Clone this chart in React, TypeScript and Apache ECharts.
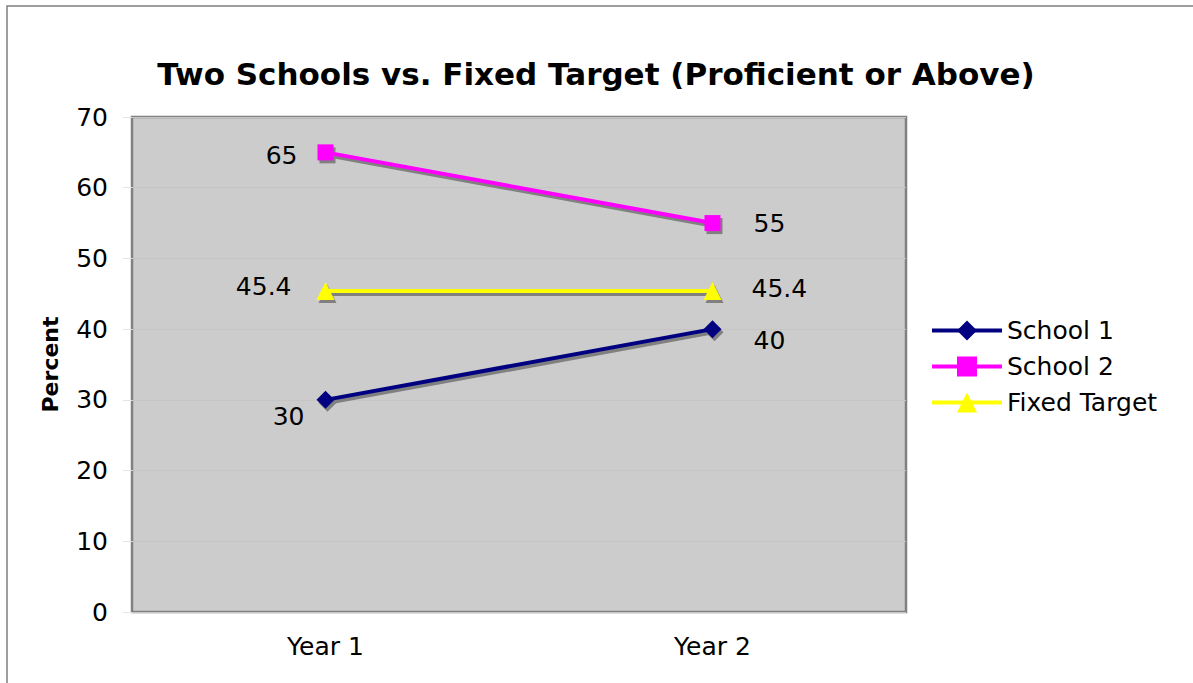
import React, { useEffect, useRef } from "react";
import * as echarts from "echarts";

const categories = ["Year 1", "Year 2"];
const school1 = [30, 40];
const school2 = [65, 55];
const fixedTarget = [45.4, 45.4];
const seriesNames = ["School 1", "School 2", "Fixed Target"];
const yTicks = { min: 0, max: 70, interval: 10 };

const FONT = "DejaVu Sans, Verdana, sans-serif";
const FS = 25;

export default function App() {
  const ref = useRef<HTMLDivElement>(null);
  useEffect(() => {
    document.body.style.margin = "0";
    const chart = echarts.init(ref.current!, null, { renderer: "svg" });
    const labelBase = { show: true, fontFamily: FONT, fontSize: FS, color: "#000" };
    const mk = (
      name: string,
      values: number[],
      color: string,
      symbol: string,
      symbolSize: number,
      labels: any[]
    ) => ({
      name,
      type: "line",
      data: values.map((v, i) => ({ value: v, label: { ...labelBase, ...labels[i] } })),
      symbol,
      symbolSize,
      lineStyle: { color, width: 4 },
      itemStyle: { color },
      emphasis: { disabled: true },
      z: 4,
    });
    const shadowOf = (name: string, values: number[], symbol: string, symbolSize: number) => ({
      name: name + " shadow",
      type: "line",
      xAxisIndex: 1,
      yAxisIndex: 1,
      data: values,
      symbol,
      symbolSize,
      lineStyle: { color: "#808080", width: 4 },
      itemStyle: { color: "#808080" },
      silent: true,
      emphasis: { disabled: true },
      z: 3,
    });
    const gridBox = { width: 774, height: 495 };
    chart.setOption({
      animation: false,
      backgroundColor: "#fff",
      title: {
        text: "Two Schools vs. Fixed Target (Proficient or Above)",
        left: 591,
        textAlign: "center",
        top: 53,
        textStyle: { fontFamily: FONT, fontSize: 31, fontWeight: "bold", color: "#000" },
      },
      graphic: [
        {
          type: "rect",
          shape: { x: 7, y: 6, width: 1200, height: 700 },
          style: { fill: "none", stroke: "#7f7f7f", lineWidth: 1.5 },
          z: 0,
        },
      ],
      legend: {
        orient: "vertical",
        left: 930,
        top: 318,
        padding: 0,
        itemWidth: 70,
        itemHeight: 25,
        itemGap: 11,
        lineStyle: { width: 4 },
        textStyle: { fontFamily: FONT, fontSize: FS, color: "#000" },
        data: seriesNames.map((n) => ({ name: n })),
      },
      grid: [
        {
          left: 132,
          top: 117,
          ...gridBox,
          show: true,
          backgroundColor: "#cccccc",
          borderColor: "#808080",
          borderWidth: 2.5,
        },
        { left: 134, top: 120, ...gridBox, show: false },
      ],
      xAxis: [
        {
          type: "category",
          data: categories,
          boundaryGap: true,
          axisLine: { show: false },
          axisTick: { show: false },
          axisLabel: { fontFamily: FONT, fontSize: FS, color: "#000", margin: 22 },
        },
        { type: "category", gridIndex: 1, data: categories, boundaryGap: true, show: false },
      ],
      yAxis: [
        {
          type: "value",
          min: yTicks.min,
          max: yTicks.max,
          interval: yTicks.interval,
          name: "Percent",
          nameLocation: "middle",
          nameGap: 71,
          nameTextStyle: { fontFamily: FONT, fontSize: 22, fontWeight: "bold", color: "#000" },
          axisLine: { show: false },
          axisTick: { show: true, length: 9, lineStyle: { color: "#e4e4e4" } },
          axisLabel: { fontFamily: FONT, fontSize: FS, color: "#000", margin: 24 },
          splitLine: { show: true, lineStyle: { color: "#c5c5c5", width: 1 } },
        },
        {
          type: "value",
          gridIndex: 1,
          min: yTicks.min,
          max: yTicks.max,
          interval: yTicks.interval,
          show: false,
          splitLine: { show: false },
        },
      ],
      series: [
        shadowOf(seriesNames[0], school1, "diamond", 18),
        shadowOf(seriesNames[1], school2, "rect", 16),
        shadowOf(seriesNames[2], fixedTarget, "triangle", 18),
        mk(seriesNames[0], school1, "#000080", "diamond", 18, [
          { position: "left", distance: 12, offset: [0, 17] },
          { position: "right", distance: 32, offset: [0, 11] },
        ]),
        mk(seriesNames[1], school2, "#ff00ff", "rect", 16, [
          { position: "left", distance: 20, offset: [0, 3] },
          { position: "right", distance: 33, offset: [0, 0] },
        ]),
        mk(seriesNames[2], fixedTarget, "#ffff00", "triangle", 18, [
          { position: "left", distance: 25, offset: [0, -4] },
          { position: "right", distance: 30, offset: [0, -2] },
        ]),
      ],
    });
    return () => chart.dispose();
  }, []);
  return (
    <div
      ref={ref}
      style={{ position: "absolute", left: 0, top: 0, width: 1193, height: 683 }}
    />
  );
}
